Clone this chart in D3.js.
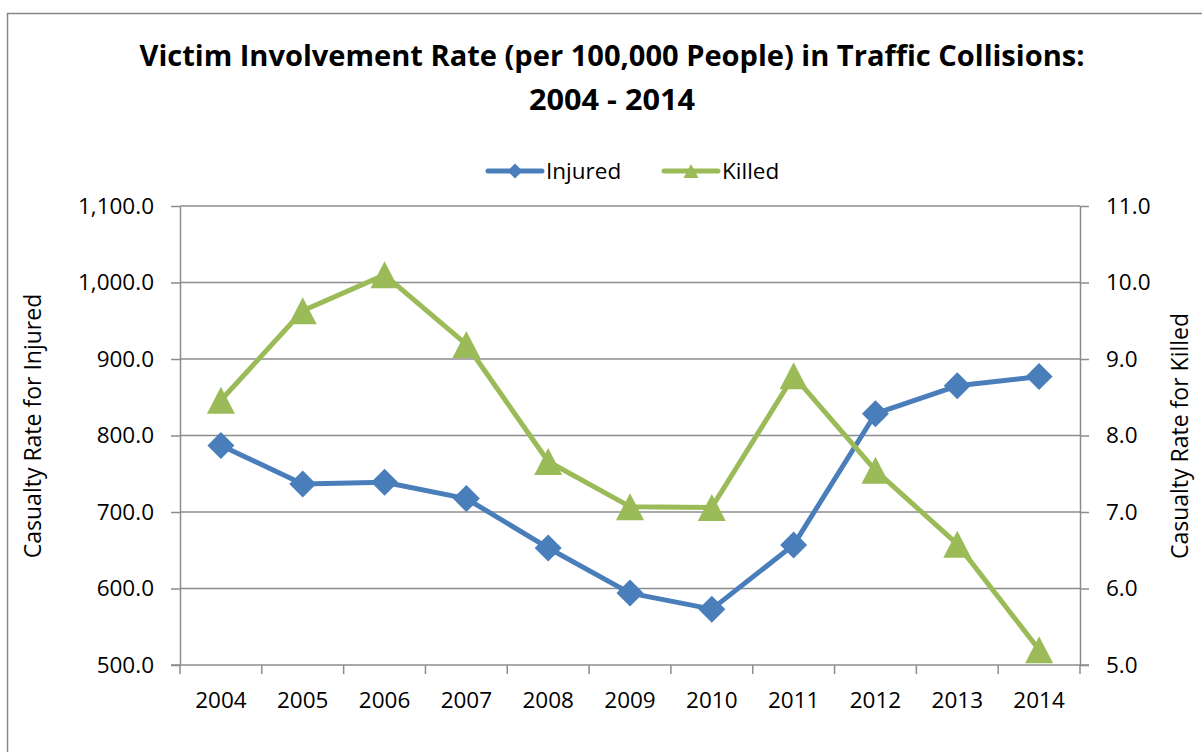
<!DOCTYPE html>
<html>
<head>
<meta charset="utf-8">
<script src="https://cdn.jsdelivr.net/npm/d3@7"></script>
<style>
  html, body { margin: 0; padding: 0; background: #fff; }
  svg { display: block; }
  text { font-family: "Open Sans", "Liberation Sans", sans-serif; fill: #000; }
</style>
</head>
<body>
<svg id="chart" width="1202" height="752"></svg>
<script>
const years = ["2004","2005","2006","2007","2008","2009","2010","2011","2012","2013","2014"];
const injured = [787, 736.7, 738.8, 717.5, 653, 594, 573, 657, 828.5, 865, 877];
const killed = [8.46, 9.63, 10.1, 9.19, 7.66, 7.07, 7.06, 8.78, 7.545, 6.58, 5.2];
const leftTicks = [500, 600, 700, 800, 900, 1000, 1100];
const rightTicks = [5, 6, 7, 8, 9, 10, 11];
const titleLines = ["Victim Involvement Rate (per 100,000 People) in Traffic Collisions:", "2004 - 2014"];
const seriesNames = ["Injured", "Killed"];
const leftTitle = "Casualty Rate for Injured";
const rightTitle = "Casualty Rate for Killed";

const blue = "#4A7EBB";
const green = "#9BBB59";
const gridColor = "#8C8C8C";
const tickFont = "22.5px";

const svg = d3.select("#chart");

// Outer border
svg.append("rect")
  .attr("x", 7.5).attr("y", 13.5)
  .attr("width", 1300).attr("height", 900)
  .attr("fill", "#fff").attr("stroke", "#888").attr("stroke-width", 1.5);

const plot = {left: 180, right: 1080, top: 206, bottom: 665};

const x = d3.scaleBand().domain(years).range([plot.left, plot.right]).padding(0);
const yL = d3.scaleLinear().domain([500, 1100]).range([plot.bottom, plot.top]);
const yR = d3.scaleLinear().domain([5, 11]).range([plot.bottom, plot.top]);
const cx = d => x(d) + x.bandwidth() / 2;

// Title
svg.append("text")
  .attr("x", 612).attr("y", 66)
  .attr("text-anchor", "middle")
  .style("font-size", "28px").style("font-weight", "bold")
  .attr("textLength", 945).attr("lengthAdjust", "spacingAndGlyphs")
  .text(titleLines[0]);
svg.append("text")
  .attr("x", 612).attr("y", 110)
  .attr("text-anchor", "middle")
  .style("font-size", "28px").style("font-weight", "bold")
  .attr("textLength", 166).attr("lengthAdjust", "spacingAndGlyphs")
  .text(titleLines[1]);

// Gridlines
svg.append("g").selectAll("line")
  .data(leftTicks.filter(v => v > 500))
  .join("line")
  .attr("x1", plot.left).attr("x2", plot.right)
  .attr("y1", d => yL(d)).attr("y2", d => yL(d))
  .attr("stroke", gridColor).attr("stroke-width", 1.5);

// Left axis
const gL = svg.append("g").attr("transform", `translate(${plot.left},0)`)
  .call(d3.axisLeft(yL).tickValues(leftTicks).tickFormat(d3.format(",.1f"))
    .tickSize(9).tickSizeOuter(0).tickPadding(17));
// Right axis
const gR = svg.append("g").attr("transform", `translate(${plot.right},0)`)
  .call(d3.axisRight(yR).tickValues(rightTicks).tickFormat(d3.format(".1f"))
    .tickSize(9).tickSizeOuter(0).tickPadding(17));
// Bottom axis labels
const gB = svg.append("g").attr("transform", `translate(0,${plot.bottom})`)
  .call(d3.axisBottom(x).tickSize(0).tickPadding(27));
gB.select(".domain").remove();

[gL, gR].forEach(g => {
  g.select(".domain").attr("stroke", gridColor).attr("stroke-width", 1.5);
  g.selectAll(".tick line").attr("stroke", gridColor).attr("stroke-width", 1.5);
});
[gL, gR, gB].forEach(g => {
  g.selectAll(".tick text").style("font-size", tickFont).attr("fill", "#000")
    .style("font-family", "'Open Sans', sans-serif");
});

// Bottom axis line and category boundary ticks
svg.append("line")
  .attr("x1", plot.left - 9).attr("x2", plot.right + 9)
  .attr("y1", plot.bottom).attr("y2", plot.bottom)
  .attr("stroke", gridColor).attr("stroke-width", 1.5);
const edges = years.map(d => x(d)).concat([x(years[years.length - 1]) + x.bandwidth()]);
svg.append("g").selectAll("line").data(edges).join("line")
  .attr("x1", d => d).attr("x2", d => d)
  .attr("y1", plot.bottom).attr("y2", plot.bottom + 9)
  .attr("stroke", gridColor).attr("stroke-width", 1.5);

// Axis titles
svg.append("text")
  .attr("transform", `translate(41,426) rotate(-90)`)
  .attr("text-anchor", "middle").style("font-size", "23px")
  .text(leftTitle);
svg.append("text")
  .attr("transform", `translate(1188,436) rotate(-90)`)
  .attr("text-anchor", "middle").style("font-size", "23px")
  .text(rightTitle);

// Marker paths
const diamond = r => `M0,${-r}L${r},0L0,${r}L${-r},0Z`;
const triangle = (w, h) => `M0,${-h / 2}L${w / 2},${h / 2}L${-w / 2},${h / 2}Z`;

// Lines
const lineL = d3.line().x((d, i) => cx(years[i])).y(d => yL(d));
const lineR = d3.line().x((d, i) => cx(years[i])).y(d => yR(d));

svg.append("path").datum(injured).attr("d", lineL)
  .attr("fill", "none").attr("stroke", blue).attr("stroke-width", 5).attr("stroke-linejoin", "round");
svg.append("path").datum(killed).attr("d", lineR)
  .attr("fill", "none").attr("stroke", green).attr("stroke-width", 5).attr("stroke-linejoin", "round");

svg.append("g").selectAll("path").data(injured).join("path")
  .attr("transform", (d, i) => `translate(${cx(years[i])},${yL(d)})`)
  .attr("d", diamond(13.5)).attr("fill", blue);
svg.append("g").selectAll("path").data(killed).join("path")
  .attr("transform", (d, i) => `translate(${cx(years[i])},${yR(d)})`)
  .attr("d", triangle(28, 27)).attr("fill", green);

// Legend
const legend = svg.append("g");
const legItems = [
  {name: seriesNames[0], color: blue, x0: 488, shape: diamond(7.5)},
  {name: seriesNames[1], color: green, x0: 664, shape: triangle(15, 14)}
];
legItems.forEach(it => {
  const g = legend.append("g").attr("transform", `translate(${it.x0},171)`);
  g.append("line").attr("x1", 0).attr("x2", 54).attr("y1", 0).attr("y2", 0)
    .attr("stroke", it.color).attr("stroke-width", 5).attr("stroke-linecap", "round");
  g.append("path").attr("transform", "translate(27,0)").attr("d", it.shape).attr("fill", it.color);
  g.append("text").attr("x", 58).attr("y", 0).attr("dy", "0.36em")
    .style("font-size", tickFont).text(it.name);
});
</script>
</body>
</html>
